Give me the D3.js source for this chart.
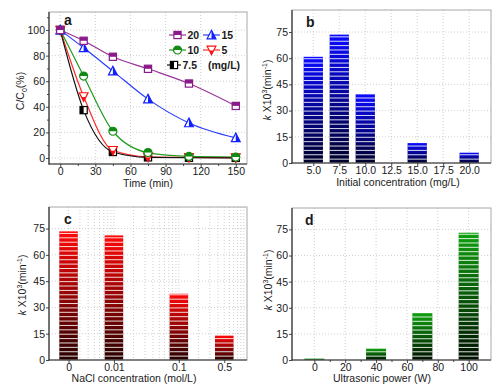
<!DOCTYPE html>
<html><head><meta charset="utf-8">
<script src="https://cdn.jsdelivr.net/npm/d3@7"></script>
<style>
body{margin:0;background:#fff}
svg{display:block}
text{font-family:"Liberation Sans",Arial,sans-serif;fill:#1a1a1a}
</style>
</head><body>
<svg id="c" width="502" height="392"></svg>
<script>
// ---------- data ----------
const times = [0, 20, 45, 75, 110, 150];
const c20 = [100, 91.6, 79.1, 69.7, 58.2, 40.7];
const c15 = [100, 86.1, 67.9, 46.0, 27.4, 15.7];
const c10 = [100, 64.0, 20.9, 4.2, 1.2, 0.7];
const c5  = [100, 48.0, 6.0, 0.8, 0.4, 0.3];
const c75 = [100, 37.4, 4.7, 0.5, 0.2, 0.1];
const timeTicks = [0, 30, 60, 90, 120, 150];
const pctTicks = [0, 20, 40, 60, 80, 100];

const initConc = [5.0, 7.5, 10.0, 15.0, 20.0];
const kInit = [60.8, 73.5, 39.3, 11.4, 5.9];
const initTicks = [5.0, 7.5, 10.0, 12.5, 15.0, 17.5, 20.0];

const naclLabels = ["0", "0.01", "0.1", "0.5"];
const naclConc = [0.002, 0.01, 0.1, 0.5]; // "0" sits at 0.002 on the log axis
const kNacl = [73.4, 71.1, 37.8, 13.9];

const power = [0, 40, 70, 100];
const kPower = [0.8, 6.5, 26.9, 73.1];
const powerTicks = [0, 20, 40, 60, 80, 100];

const kTicks = [0, 15, 30, 45, 60, 75];

// ---------- setup ----------
const svg = d3.select("#c");
const defs = svg.append("defs");
function grad(id, dark, bright) {
  const g = defs.append("linearGradient").attr("id", id)
    .attr("x1", 0).attr("y1", 1).attr("x2", 0).attr("y2", 0);
  g.append("stop").attr("offset", 0).attr("stop-color", dark);
  g.append("stop").attr("offset", 1).attr("stop-color", bright);
}
grad("gBlue", "#00002a", "#0a0aff");
grad("gRed", "#260000", "#ff0808");
grad("gGreen", "#001000", "#10a010");

const FS = 10.5;

function frame(p) {
  const g = svg.append("g");
  p.g = g;
  const gridX = p.gridX || [];
  const gridY = p.gridY || [];
  g.selectAll(".gx").data(gridX).enter().append("line")
    .attr("x1", d => p.x(d)).attr("x2", d => p.x(d))
    .attr("y1", p.top).attr("y2", p.bottom)
    .attr("stroke", "#c4c4c4").attr("stroke-width", 0.8).attr("stroke-dasharray", "1,2");
  g.selectAll(".gy").data(gridY).enter().append("line")
    .attr("y1", d => p.y(d)).attr("y2", d => p.y(d))
    .attr("x1", p.left).attr("x2", p.right)
    .attr("stroke", "#c4c4c4").attr("stroke-width", 0.8).attr("stroke-dasharray", "1,2");
  return g;
}

function axes(p) {
  const g = p.g;
  g.append("rect").attr("x", p.left).attr("y", p.top)
    .attr("width", p.right - p.left).attr("height", p.bottom - p.top)
    .attr("fill", "none").attr("stroke", "#a8a8a8").attr("stroke-width", 1);
  const ax = d3.axisBottom(p.x).tickValues(p.xTicks).tickSize(3).tickPadding(1)
    .tickFormat((d, i) => p.xFmt(d, i));
  g.append("g").attr("transform", `translate(0,${p.bottom})`).call(ax);
  if (p.xMinor) {
    g.append("g").attr("transform", `translate(0,${p.bottom})`)
      .call(d3.axisBottom(p.x).tickValues(p.xMinor).tickSize(2).tickFormat(""))
      .call(s => s.select(".domain").remove());
  }
  const ay = d3.axisLeft(p.y).tickValues(p.yTicks).tickSize(3).tickPadding(1)
    .tickFormat(d3.format("d"));
  g.append("g").attr("transform", `translate(${p.left},0)`).call(ay);
  if (p.yMinor) {
    g.append("g").attr("transform", `translate(${p.left},0)`)
      .call(d3.axisLeft(p.y).tickValues(p.yMinor).tickSize(2).tickFormat(""))
      .call(s => s.select(".domain").remove());
  }
  g.selectAll(".domain").remove();
  g.selectAll(".tick line").attr("stroke", "#333").attr("stroke-width", 0.9);
  g.selectAll(".tick text").attr("font-size", FS).attr("fill", "#1a1a1a")
    .attr("font-family", '"Liberation Sans",Arial,sans-serif');
  g.append("line").attr("x1", p.left).attr("x2", p.left).attr("y1", p.top).attr("y2", p.bottom + 0.5)
    .attr("stroke", "#333").attr("stroke-width", 1.2);
  g.append("line").attr("x1", p.left - 0.5).attr("x2", p.right).attr("y1", p.bottom).attr("y2", p.bottom)
    .attr("stroke", "#333").attr("stroke-width", 1.2);
  g.append("text").attr("x", p.letterX).attr("y", p.letterY)
    .attr("font-size", 14).attr("font-weight", "bold").attr("fill", "#000").text(p.letter);
  g.append("text").attr("x", p.xTitleX).attr("y", p.xTitleY).attr("text-anchor", "middle")
    .attr("font-size", 10.5).text(p.xTitle);
}

function kTitle(g, x, y) {
  const t = g.append("text").attr("transform", `translate(${x},${y}) rotate(-90)`)
    .attr("text-anchor", "middle").attr("font-size", 10.5);
  t.append("tspan").attr("font-style", "italic").text("k");
  t.append("tspan").text(" X10");
  t.append("tspan").attr("font-size", 7).attr("dy", -4).text("3");
  t.append("tspan").attr("dy", 4).text("(min");
  t.append("tspan").attr("font-size", 7).attr("dy", -4).text("-1");
  t.append("tspan").attr("dy", 4).text(")");
}

function bars(p, xs, vals, gradId, width) {
  const g = p.g.append("g");
  const data = xs.map((d, i) => ({x: d, v: vals[i]}));
  g.selectAll("rect").data(data).enter().append("rect")
    .attr("x", d => p.x(d.x) - width / 2)
    .attr("width", width)
    .attr("y", d => p.y(d.v))
    .attr("height", d => p.y(0) - p.y(d.v))
    .attr("fill", `url(#${gradId})`);
  data.forEach(d => {
    const stripes = d3.range(2.5, d.v, 2.5);
    g.selectAll(null).data(stripes).enter().append("line")
      .attr("x1", p.x(d.x) - width / 2).attr("x2", p.x(d.x) + width / 2)
      .attr("y1", s => p.y(s) + 0.5).attr("y2", s => p.y(s) + 0.5)
      .attr("stroke", "#fff").attr("stroke-opacity", 0.85).attr("stroke-width", 1);
  });
}

function marker(g, type, color, cx, cy) {
  const s = 7.2;
  const h = s / 2;
  const m = g.append("g").attr("transform", `translate(${cx},${cy})`);
  if (type === "sqTop" || type === "sqLeft") {
    m.append("rect").attr("x", -h).attr("y", -h).attr("width", s).attr("height", s).attr("fill", "#fff");
    if (type === "sqTop")
      m.append("rect").attr("x", -h).attr("y", -h).attr("width", s).attr("height", h).attr("fill", color);
    else
      m.append("rect").attr("x", -h).attr("y", -h).attr("width", h).attr("height", s).attr("fill", color);
    m.append("rect").attr("x", -h).attr("y", -h).attr("width", s).attr("height", s)
      .attr("fill", "none").attr("stroke", color).attr("stroke-width", 1.2);
  } else if (type === "circTop") {
    const r = 4;
    m.append("circle").attr("r", r).attr("fill", "#fff");
    m.append("path").attr("d", `M${-r},0 A${r},${r} 0 0 1 ${r},0 Z`).attr("fill", color);
    m.append("circle").attr("r", r).attr("fill", "none").attr("stroke", color).attr("stroke-width", 1.2);
  } else if (type === "triUp") {
    const a = 4.8, b = 4.4;
    m.append("path").attr("d", `M0,${-a} L${b},${a - 1} L${-b},${a - 1} Z`).attr("fill", "#fff");
    m.append("path").attr("d", `M0,${-a} L${b},${a - 1} L0,${a - 1} Z`).attr("fill", color);
    m.append("path").attr("d", `M0,${-a} L${b},${a - 1} L${-b},${a - 1} Z`)
      .attr("fill", "none").attr("stroke", color).attr("stroke-width", 1.2);
  } else if (type === "triDown") {
    const a = 4.8, b = 4.4;
    m.append("path").attr("d", `M0,${a} L${b},${-a + 1} L${-b},${-a + 1} Z`).attr("fill", "#fff");
    m.append("path").attr("d", `M0,${a} L${b / 2},${0.5} L${-b / 2},${0.5} Z`).attr("fill", color);
    m.append("path").attr("d", `M0,${a} L${b},${-a + 1} L${-b},${-a + 1} Z`)
      .attr("fill", "none").attr("stroke", color).attr("stroke-width", 1.2);
  }
}

// ---------- panel a ----------
const pa = {left: 49, right: 247, top: 12, bottom: 164};
pa.x = d3.scaleLinear().domain([-9.6, 159.6]).range([pa.left, pa.right]);
pa.y = d3.scaleLinear().domain([-4.7, 114.1]).range([pa.bottom, pa.top]);
pa.gridX = timeTicks; pa.gridY = pctTicks;
pa.xTicks = timeTicks; pa.xMinor = [15, 45, 75, 105, 135];
pa.yTicks = pctTicks; pa.yMinor = [10, 30, 50, 70, 90, 110];
pa.xFmt = d => d; pa.letter = "a"; pa.letterX = 64; pa.letterY = 25;
pa.xTitle = "Time (min)"; pa.xTitleX = 148; pa.xTitleY = 187;
frame(pa);
const seriesA = [
  {vals: c20, color: "#993399", mcolor: "#8a1a8a", type: "sqTop", name: "20"},
  {vals: c15, color: "#2a3cff", mcolor: "#1020ff", type: "triUp", name: "15"},
  {vals: c10, color: "#1f9a1f", mcolor: "#138a13", type: "circTop", name: "10"},
  {vals: c5, color: "#ff2a2a", mcolor: "#ff1010", type: "triDown", name: "5"},
  {vals: c75, color: "#111", mcolor: "#000", type: "sqLeft", name: "7.5"}
];
const lineGen = d3.line().x(d => pa.x(d[0])).y(d => pa.y(d[1])).curve(d3.curveMonotoneX);
seriesA.forEach(s => {
  const pts = times.map((t, i) => [t, s.vals[i]]);
  pa.g.append("path").attr("d", lineGen(pts)).attr("fill", "none")
    .attr("stroke", s.color).attr("stroke-width", 1.2);
});
seriesA.slice().reverse().forEach(s => {
  times.forEach((t, i) => marker(pa.g, s.type, s.mcolor, pa.x(t), pa.y(s.vals[i])));
});
axes(pa);
{
  const t = pa.g.append("text").attr("transform", "translate(24,91) rotate(-90)")
    .attr("text-anchor", "middle").attr("font-size", 10.5);
  t.append("tspan").text("C/C");
  t.append("tspan").attr("font-size", 7).attr("dy", 3).text("0");
  t.append("tspan").attr("dy", -3).text("(%)");
}
{
  const lg = pa.g.append("g");
  const items = [
    {s: seriesA[0], x: 169, y: 35}, {s: seriesA[1], x: 203, y: 35},
    {s: seriesA[2], x: 169, y: 50}, {s: seriesA[3], x: 203, y: 50},
    {s: seriesA[4], x: 167, y: 65}
  ];
  items.forEach(it => {
    const len = it.s.name === "7.5" ? 14 : 17;
    lg.append("line").attr("x1", it.x).attr("x2", it.x + len).attr("y1", it.y).attr("y2", it.y)
      .attr("stroke", it.s.color).attr("stroke-width", 1.2);
    marker(lg, it.s.type, it.s.mcolor, it.x + len / 2, it.y);
    lg.append("text").attr("x", it.x + len + 1.5).attr("y", it.y + 3.8)
      .attr("font-size", 10.5).attr("font-weight", "bold").text(it.s.name);
  });
  lg.append("text").attr("x", 208).attr("y", 68.8).attr("font-size", 10.5)
    .attr("font-weight", "bold").text("(mg/L)");
}

// ---------- panel b ----------
const pb = {left: 292, right: 491, top: 10, bottom: 163};
pb.x = d3.scaleLinear().domain([2.95, 22.1]).range([pb.left, pb.right]);
pb.y = d3.scaleLinear().domain([0, 87.6]).range([pb.bottom, pb.top]);
pb.gridX = initTicks; pb.gridY = kTicks;
pb.xTicks = initTicks; pb.yTicks = kTicks;
pb.xFmt = d3.format(".1f"); pb.letter = "b"; pb.letterX = 306; pb.letterY = 27;
pb.xTitle = "Initial concentration (mg/L)"; pb.xTitleX = 398; pb.xTitleY = 186;
frame(pb);
bars(pb, initConc, kInit, "gBlue", 19.3);
axes(pb);
kTitle(pb.g, 271, 90);

// ---------- panel c ----------
const pc = {left: 49, right: 247, top: 207, bottom: 360};
pc.x = d3.scaleLog().domain([0.001, 1.12]).range([pc.left, pc.right]);
pc.y = d3.scaleLinear().domain([0, 87.3]).range([pc.bottom, pc.top]);
pc.gridX = pc.x.ticks().filter(d => d > 0.001 && d < 1.12); pc.gridY = kTicks;
pc.xTicks = naclConc; pc.yTicks = kTicks;
pc.xFmt = (d, i) => naclLabels[i]; pc.letter = "c"; pc.letterX = 64; pc.letterY = 224;
pc.xTitle = "NaCl concentration (mol/L)"; pc.xTitleX = 134; pc.xTitleY = 382;
frame(pc);
bars(pc, naclConc, kNacl, "gRed", 18.5);
axes(pc);
kTitle(pc.g, 26, 285);

// ---------- panel d ----------
const pd = {left: 292, right: 491, top: 208, bottom: 360};
pd.x = d3.scaleLinear().domain([-14.5, 114.5]).range([pd.left, pd.right]);
pd.y = d3.scaleLinear().domain([0, 87.3]).range([pd.bottom, pd.top]);
pd.gridX = powerTicks; pd.gridY = kTicks;
pd.xTicks = powerTicks; pd.xMinor = [10, 30, 50, 70, 90]; pd.yTicks = kTicks;
pd.xFmt = d => d; pd.letter = "d"; pd.letterX = 305; pd.letterY = 225;
pd.xTitle = "Ultrasonic power (W)"; pd.xTitleX = 382; pd.xTitleY = 382;
frame(pd);
bars(pd, power, kPower, "gGreen", 20);
axes(pd);
kTitle(pd.g, 272, 280);
</script>
</body></html>
